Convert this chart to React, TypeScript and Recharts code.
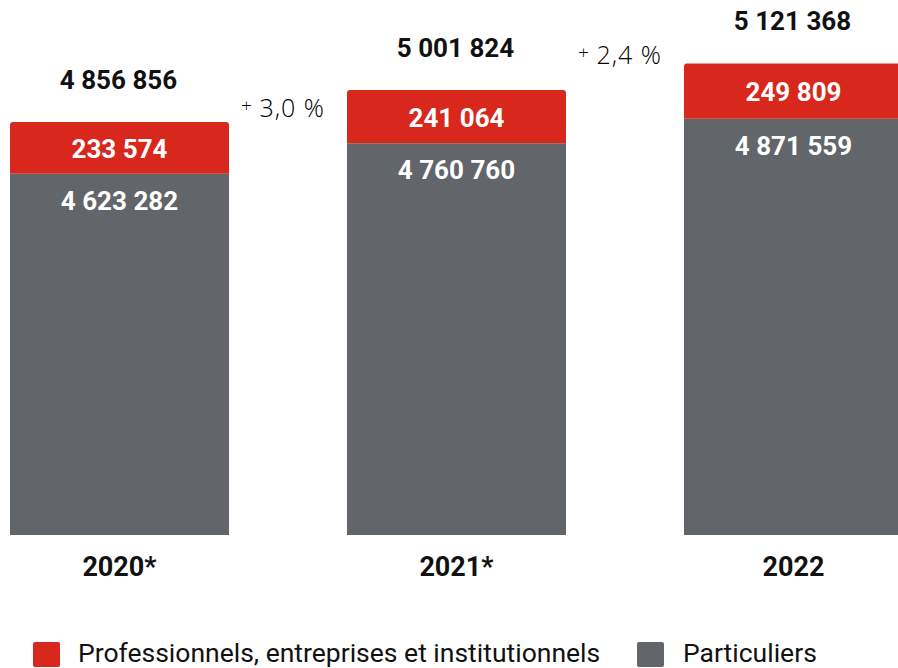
import React from "react";
import { BarChart, Bar, XAxis, YAxis, LabelList, Legend } from "recharts";

const years = ["2020*", "2021*", "2022"];
const particuliers = [4623282, 4760760, 4871559];
const professionnels = [233574, 241064, 249809];
const totals = [4856856, 5001824, 5121368];
const growth: (string | null)[] = [null, "3,0 %", "2,4 %"];

const RED = "#d8271c";
const GREY = "#626569";
const FONT = "Roboto, sans-serif";

const data = years.map((y, i) => ({
  year: y,
  particuliers: particuliers[i],
  professionnels: professionnels[i],
  total: totals[i],
  growth: growth[i],
}));

const fmt = (n: number) => String(n).replace(/\B(?=(\d{3})+(?!\d))/g, " ");

const GROWTH_DY = [0, 19, -7];

const GreyLabel = (p: any) => {
  const { x, y, width, value } = p;
  return (
    <text x={x + width / 2} y={y + 27} textAnchor="middle" dominantBaseline="central"
      fill="#fff" fontFamily={FONT} fontWeight={700} fontSize={26}>
      {fmt(value)}
    </text>
  );
};

const RedLabel = (p: any) => {
  const { x, y, width, height, value } = p;
  return (
    <text x={x + width / 2} y={y + height / 2 + 1} textAnchor="middle" dominantBaseline="central"
      fill="#fff" fontFamily={FONT} fontWeight={700} fontSize={26}>
      {fmt(value)}
    </text>
  );
};

const TotalLabel = (p: any) => {
  const { x, y, width, value } = p;
  return (
    <text x={x + width / 2 - 1} y={y - 42} textAnchor="middle" dominantBaseline="central"
      fill="#111" fontFamily={FONT} fontWeight={700} fontSize={26}>
      {fmt(value)}
    </text>
  );
};

const GrowthLabel = (p: any) => {
  const { x, y, value, index } = p;
  if (!value) return null;
  const cy = y + GROWTH_DY[index];
  return (
    <text x={x - 22} y={cy + 8} textAnchor="end" fill="#000"
      fontFamily="'Open Sans', sans-serif" fontWeight={300}>
      <tspan fontSize={19} dy={-5}>+</tspan>
      <tspan fontSize={25} dy={5} letterSpacing={1}>{" " + value}</tspan>
    </text>
  );
};

const YearTick = (p: any) => {
  const { x, y, payload } = p;
  return (
    <text x={x} y={y + 32} textAnchor="middle" dominantBaseline="central"
      fill="#111" fontFamily={FONT} fontWeight={700} fontSize={27}>
      {payload.value}
    </text>
  );
};

const LegendContent = () => (
  <div style={{ position: "relative", width: 1011, height: 38, fontFamily: FONT }}>
    <div style={{ position: "absolute", left: 82, top: 12, width: 27, height: 25, background: RED, borderRadius: 2 }} />
    <div style={{ position: "absolute", left: 127, top: 8, fontSize: 26.5, color: "#111", lineHeight: "30px", whiteSpace: "nowrap" }}>
      Professionnels, entreprises et institutionnels
    </div>
    <div style={{ position: "absolute", left: 686, top: 12, width: 27, height: 25, background: GREY, borderRadius: 2 }} />
    <div style={{ position: "absolute", left: 732, top: 8, fontSize: 26.5, color: "#111", lineHeight: "30px", whiteSpace: "nowrap" }}>
      Particuliers
    </div>
  </div>
);

export default function App() {
  return (
    <div style={{ position: "fixed", left: 0, top: 0, width: 898, height: 668, overflow: "hidden", background: "#fff" }}>
      <div style={{ position: "absolute", left: -49, top: 0 }}>
        <BarChart width={1011} height={668} data={data}
          margin={{ top: 0, right: 0, left: 0, bottom: 55 }} barSize={219}>
          <XAxis dataKey="year" axisLine={false} tickLine={false} tickSize={0} tickMargin={0}
            height={40} tick={<YearTick />} interval={0} />
          <YAxis hide domain={[2990000, 5408200]} allowDataOverflow />
          <Legend verticalAlign="bottom" height={38} wrapperStyle={{ left: 0, bottom: 0, width: 1011 }}
            content={() => <LegendContent />} />
          <Bar dataKey="particuliers" stackId="a" fill={GREY} isAnimationActive={false}>
            <LabelList dataKey="particuliers" content={<GreyLabel />} />
          </Bar>
          <Bar dataKey="professionnels" stackId="a" fill={RED} radius={[3, 3, 0, 0]} isAnimationActive={false}>
            <LabelList dataKey="professionnels" content={<RedLabel />} />
            <LabelList dataKey="total" content={<TotalLabel />} />
            <LabelList dataKey="growth" content={<GrowthLabel />} />
          </Bar>
        </BarChart>
      </div>
    </div>
  );
}
